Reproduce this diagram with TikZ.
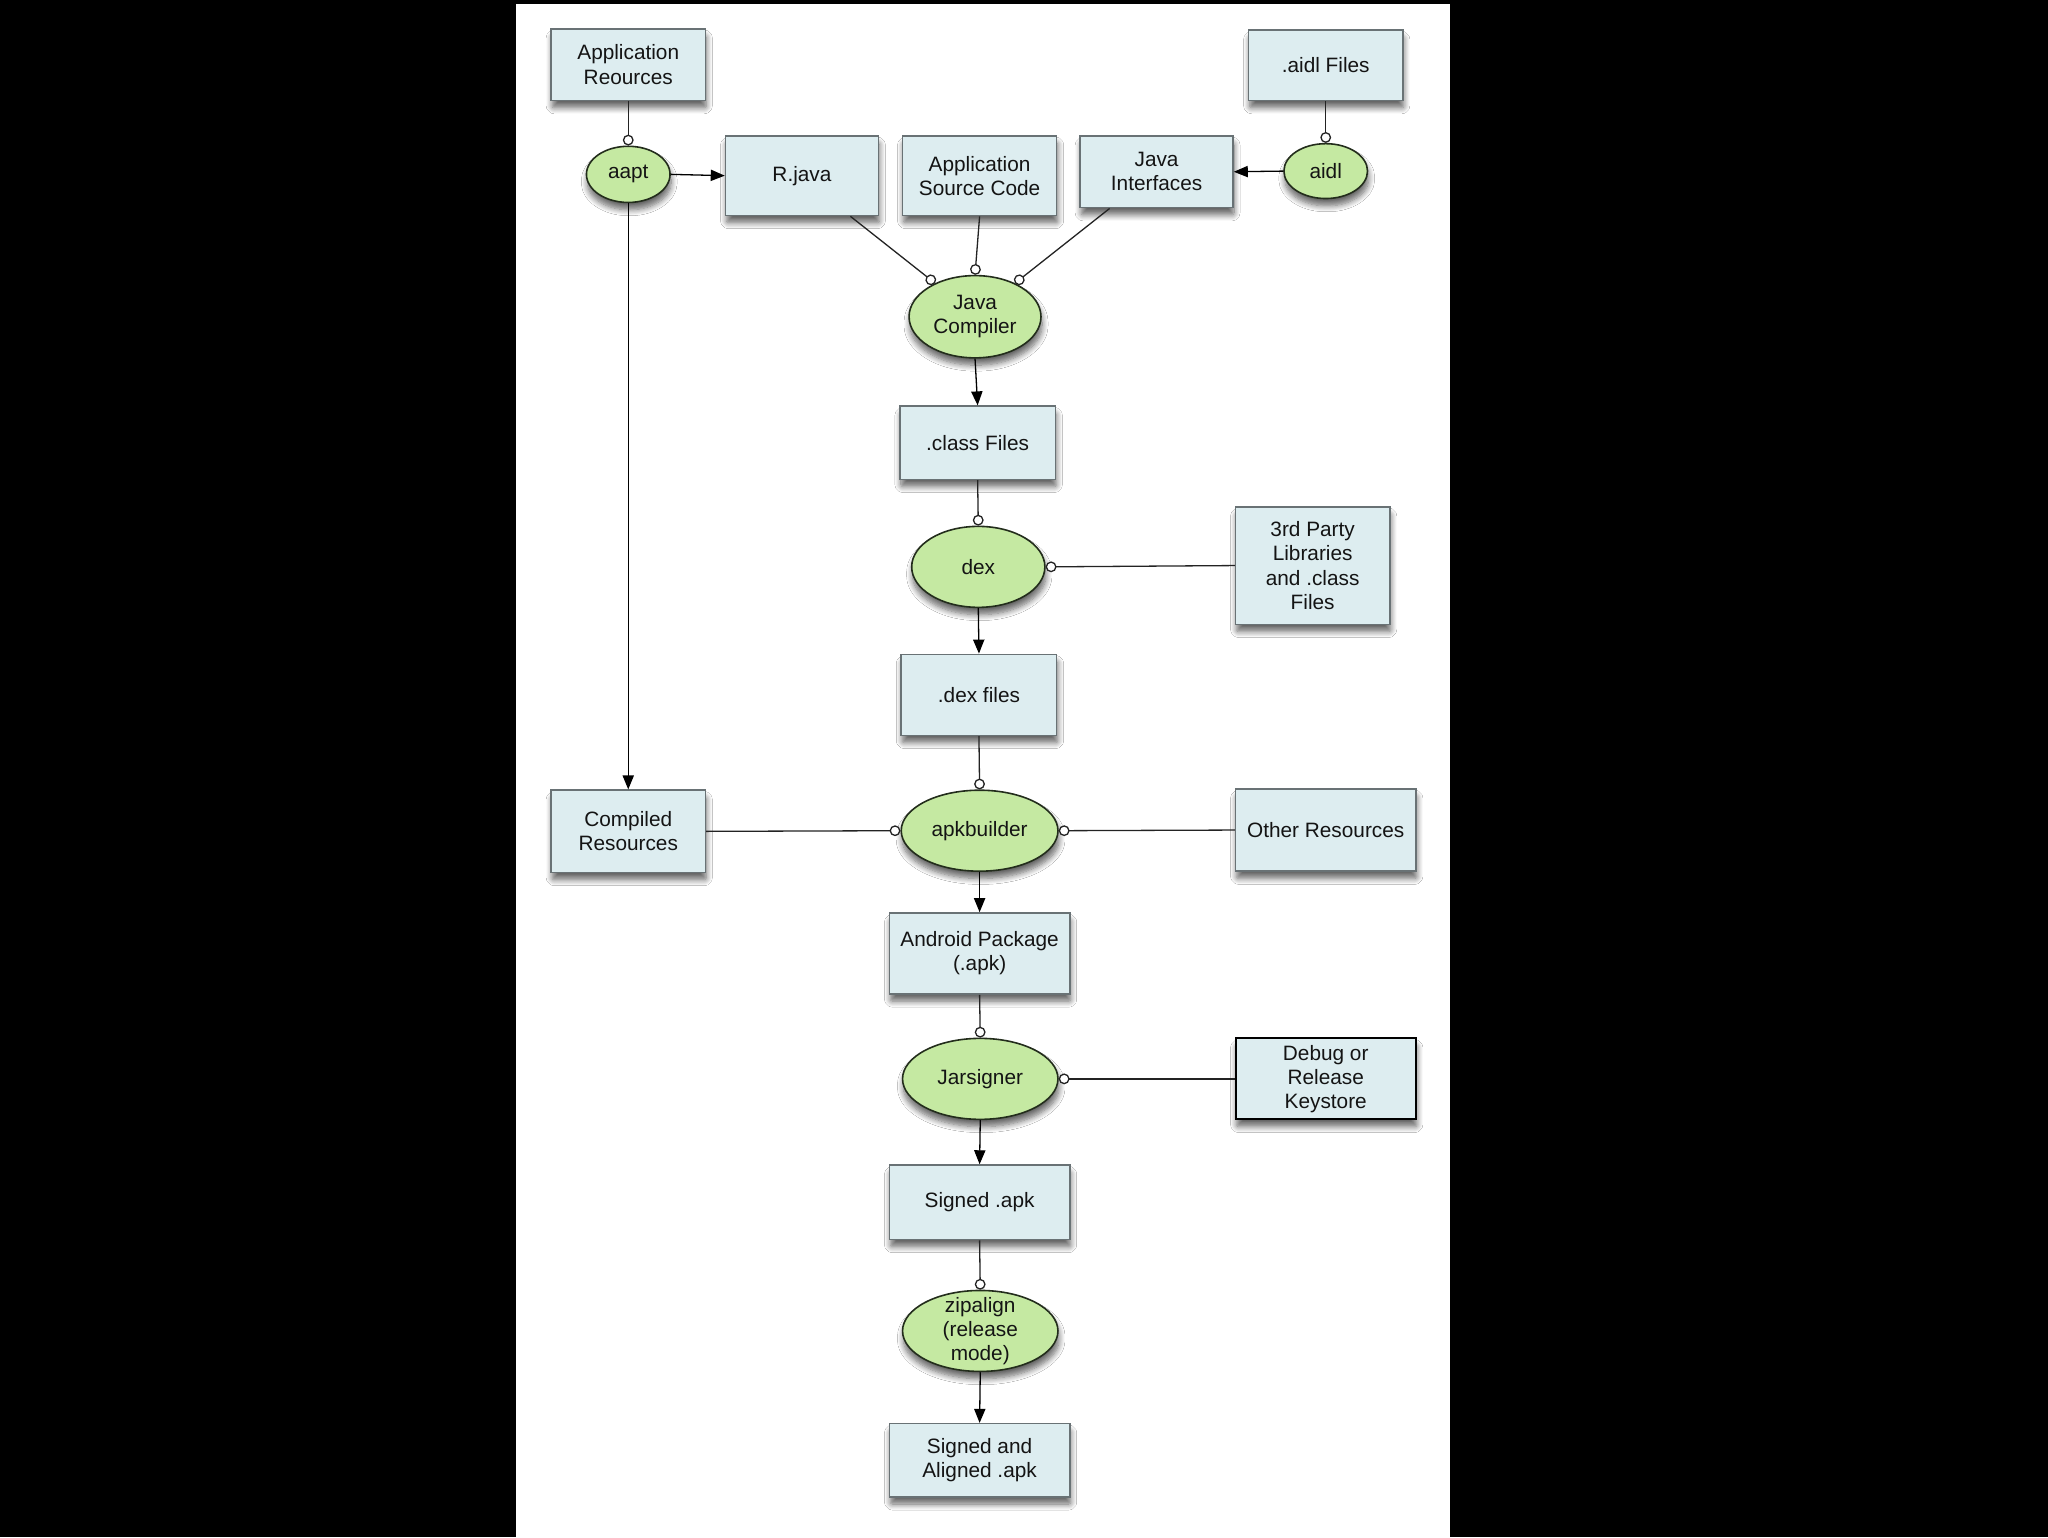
\documentclass[tikz,border=0pt]{standalone}
\usepackage{fontspec}
\setmainfont{Liberation Sans}
\usetikzlibrary{shapes.geometric,arrows.meta,shadows,shadows.blur}
\definecolor{boxfill}{RGB}{221,237,240}
\definecolor{boxline}{RGB}{105,114,117}
\definecolor{procfill}{RGB}{197,233,162}
\definecolor{procline}{RGB}{35,45,28}
\definecolor{wire}{RGB}{35,35,35}
\definecolor{ink}{RGB}{20,20,20}
\begin{document}
\begin{tikzpicture}[x=0.65306pt,y=-0.65306pt,
  every node/.style={font=\fontsize{10.4}{12.1}\selectfont, align=center, text=ink},
  softshadow/.style={blur shadow={shadow xshift=0.5pt, shadow yshift=-3.6pt, shadow blur steps=8, shadow blur radius=3pt, shadow blur extra rounding=1pt, shadow opacity=60}},
  filebox/.style={rectangle, draw=boxline, line width=0.8pt, fill=boxfill, inner sep=0pt, softshadow},
  proc/.style={ellipse, draw=procline, line width=0.8pt, fill=procfill, inner sep=-6pt, softshadow},
  feed/.style={draw=wire, line width=0.65pt, -{Circle[length=5.4pt, width=5.4pt, fill=white]}},
  flow/.style={draw=black, line width=0.65pt, -{Triangle[length=7pt, width=5.6pt]}},
]
\useasboundingbox (0,0) rectangle (1568,1177);
\fill[black] (0,0) rectangle (1568,1177);
\fill[white] (395,3) rectangle (1110,1177);

% data boxes
\node[filebox, minimum width=77.06pt, minimum height=35.92pt] (appres) at (481,49.5) {Application\\Reources};
\node[filebox, minimum width=76.41pt, minimum height=39.84pt] (rjava) at (614,134.5) {R.java};
\node[filebox, minimum width=77.06pt, minimum height=39.84pt] (appsrc) at (750,134.5) {Application\\Source Code};
\node[filebox, minimum width=76.41pt, minimum height=35.92pt] (javaint) at (885.5,131.5) {Java\\Interfaces};
\node[filebox, minimum width=77.06pt, minimum height=35.27pt] (aidlf) at (1015,50) {.aidl Files};
\node[filebox, minimum width=77.71pt, minimum height=36.57pt] (classf) at (748.5,339) {.class Files};
\node[filebox, minimum width=77.06pt, minimum height=58.78pt] (third) at (1005,433) {3rd Party\\Libraries\\and .class\\Files};
\node[filebox, minimum width=77.71pt, minimum height=40.49pt] (dexf) at (749.5,532) {.dex files};
\node[filebox, minimum width=77.06pt, minimum height=41.14pt] (compres) at (481,636.5) {Compiled\\Resources};
\node[filebox, minimum width=90.12pt, minimum height=41.14pt] (otherres) at (1015,635.5) {Other Resources};
\node[filebox, minimum width=90.12pt, minimum height=40.49pt] (apk) at (750,730) {Android Package\\(.apk)};
\node[filebox, draw=black, line width=1pt, minimum width=90.12pt, minimum height=40.49pt] (keystore) at (1015,826) {Debug or\\Release\\Keystore};
\node[filebox, minimum width=90.12pt, minimum height=37.22pt] (signed) at (750,920.5) {Signed .apk};
\node[filebox, minimum width=90.12pt, minimum height=36.57pt] (signedal) at (750,1118) {Signed and\\Aligned .apk};

% tools
\node[proc, minimum width=41.8pt, minimum height=28.08pt] (aapt) at (481,133.5) {aapt};
\node[proc, minimum width=41.8pt, minimum height=27.43pt] (aidl) at (1015,131) {aidl};
\node[proc, minimum width=65.96pt, minimum height=41.14pt] (jc) at (746.5,242.5) {Java\\Compiler};
\node[proc, minimum width=66.61pt, minimum height=40.49pt] (dex) at (749,434) {dex};
\node[proc, minimum width=78.37pt, minimum height=40.49pt] (apkb) at (750,636) {apkbuilder};
\node[proc, minimum width=77.71pt, minimum height=40.49pt] (jar) at (750.5,826) {Jarsigner};
\node[proc, minimum width=77.71pt, minimum height=40.49pt] (zip) at (750.5,1019) {zipalign\\(release\\mode)};

% inputs (open circle at the tool)
\draw[feed] (appres.south) -- (aapt.north);
\draw[feed] (aidlf.south) -- (aidl.north);
\draw[feed] (rjava.-40) -- (jc.140);
\draw[feed] (appsrc.south) -- (jc.north);
\draw[feed] (javaint.-142) -- (jc.40);
\draw[feed] (classf.south) -- (dex.north);
\draw[feed] (third.west) -- (dex.east);
\draw[feed] (dexf.south) -- (apkb.north);
\draw[feed] (compres.east) -- (apkb.west);
\draw[feed] (otherres.west) -- (apkb.east);
\draw[feed] (apk.south) -- (jar.north);
\draw[feed] (keystore.west) -- (jar.east);
\draw[feed] (signed.south) -- (zip.north);

% outputs (arrows)
\draw[flow] (aapt.east) -- (rjava.west);
\draw[flow] (aapt.south) -- (compres.north);
\draw[flow] (aidl.west) -- (javaint.east);
\draw[flow] (jc.south) -- (classf.north);
\draw[flow] (dex.south) -- (dexf.north);
\draw[flow] (apkb.south) -- (apk.north);
\draw[flow] (jar.south) -- (signed.north);
\draw[flow] (zip.south) -- (signedal.north);
\end{tikzpicture}
\end{document}
